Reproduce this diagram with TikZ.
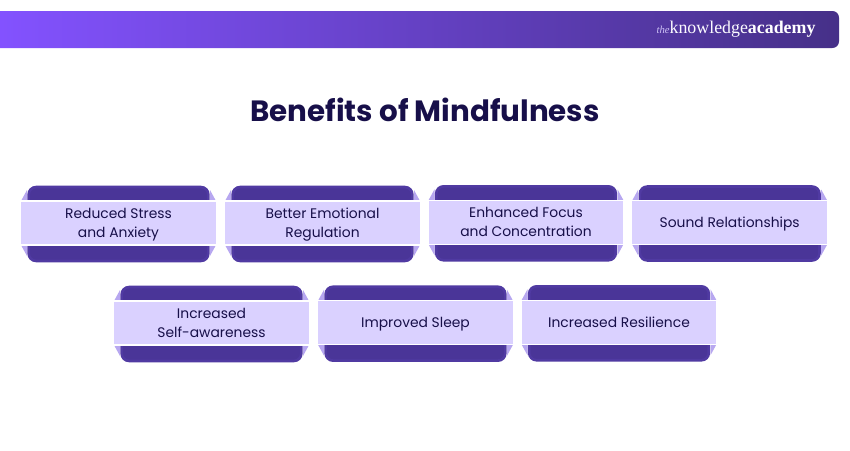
\documentclass[tikz,border=0pt]{standalone}
\usepackage{fontspec}
\setmainfont{Poppins}
\newfontfamily\logofont{Liberation Serif}
\usetikzlibrary{positioning}
\definecolor{barleft}{HTML}{8352FF}
\definecolor{barright}{HTML}{463088}
\definecolor{carddark}{HTML}{4A3598}
\definecolor{cardedge}{HTML}{503AA2}
\definecolor{cardlight}{HTML}{DAD1FF}
\definecolor{cardfold}{HTML}{B7A7F0}
\definecolor{inkdark}{HTML}{170F49}
\tikzset{
  cardback/.style={shape=rectangle,fill=carddark,draw=cardedge,line width=2pt,rounded corners=5.5pt,minimum width=134.7pt,minimum height=55.4pt,inner sep=0pt},
  cardfront/.style={shape=rectangle,fill=cardlight,draw=white,line width=1.1pt,minimum width=147.2pt,minimum height=33pt,inner sep=0pt,align=center,text=inkdark,font=\fontsize{10.4pt}{14.2pt}\selectfont},
  foldtip/.style={fill=cardfold}
}

\begin{document}
\begin{tikzpicture}[x=0.75pt,y=-0.75pt]
\useasboundingbox (0,0) rectangle (850,450);

% top bar
\shade[left color=barleft,right color=barright,middle color=barleft!50!barright] (0,11) [rounded corners=5pt] -- (839,11) -- (839,48) [sharp corners] -- (0,48) -- cycle;
\node(Logo) at (736,29.5) [inner sep=0pt,text=white,font=\logofont\fontsize{13.4pt}{15pt}\selectfont] {{\fontsize{8pt}{9pt}\selectfont\itshape\color{cardfold!70!white}the}{\color{white!90!cardlight}knowledge}\textbf{academy}};
\node(Title) at (425,110) [inner sep=0pt,text=inkdark,font=\bfseries\fontsize{22pt}{26pt}\selectfont] {Benefits of Mindfulness};

% cards
\foreach \name/\xc/\yc/\txt in {
  A/118.5/223/{Reduced Stress\\and Anxiety},
  B/322.5/223/{Better Emotional\\Regulation},
  C/526/222.3/{Enhanced Focus\\and Concentration},
  D/729.7/222.5/{Sound Relationships},
  E/211.5/323/{Increased\\Self-awareness},
  F/415.5/322.7/{Improved Sleep},
  G/619/322.3/{Increased Resilience}} {
  \coordinate (Mid\name) at (\xc,\yc);
  \fill[foldtip] (Mid\name) ++(-97.5,-22) -- ++(6,-11) -- ++(0,11) -- cycle;
  \fill[foldtip] (Mid\name) ++(97.5,-22) -- ++(-6,-11) -- ++(0,11) -- cycle;
  \fill[foldtip] (Mid\name) ++(-97.5,22) -- ++(6,11) -- ++(0,-11) -- cycle;
  \fill[foldtip] (Mid\name) ++(97.5,22) -- ++(-6,11) -- ++(0,-11) -- cycle;
  \node(Back\name) at (\xc,\yc+1) [cardback] {};
  \node(Card\name) at (Mid\name) [cardfront] {\rule{0pt}{12pt}\txt\strut};
}
\end{tikzpicture}
\end{document}
